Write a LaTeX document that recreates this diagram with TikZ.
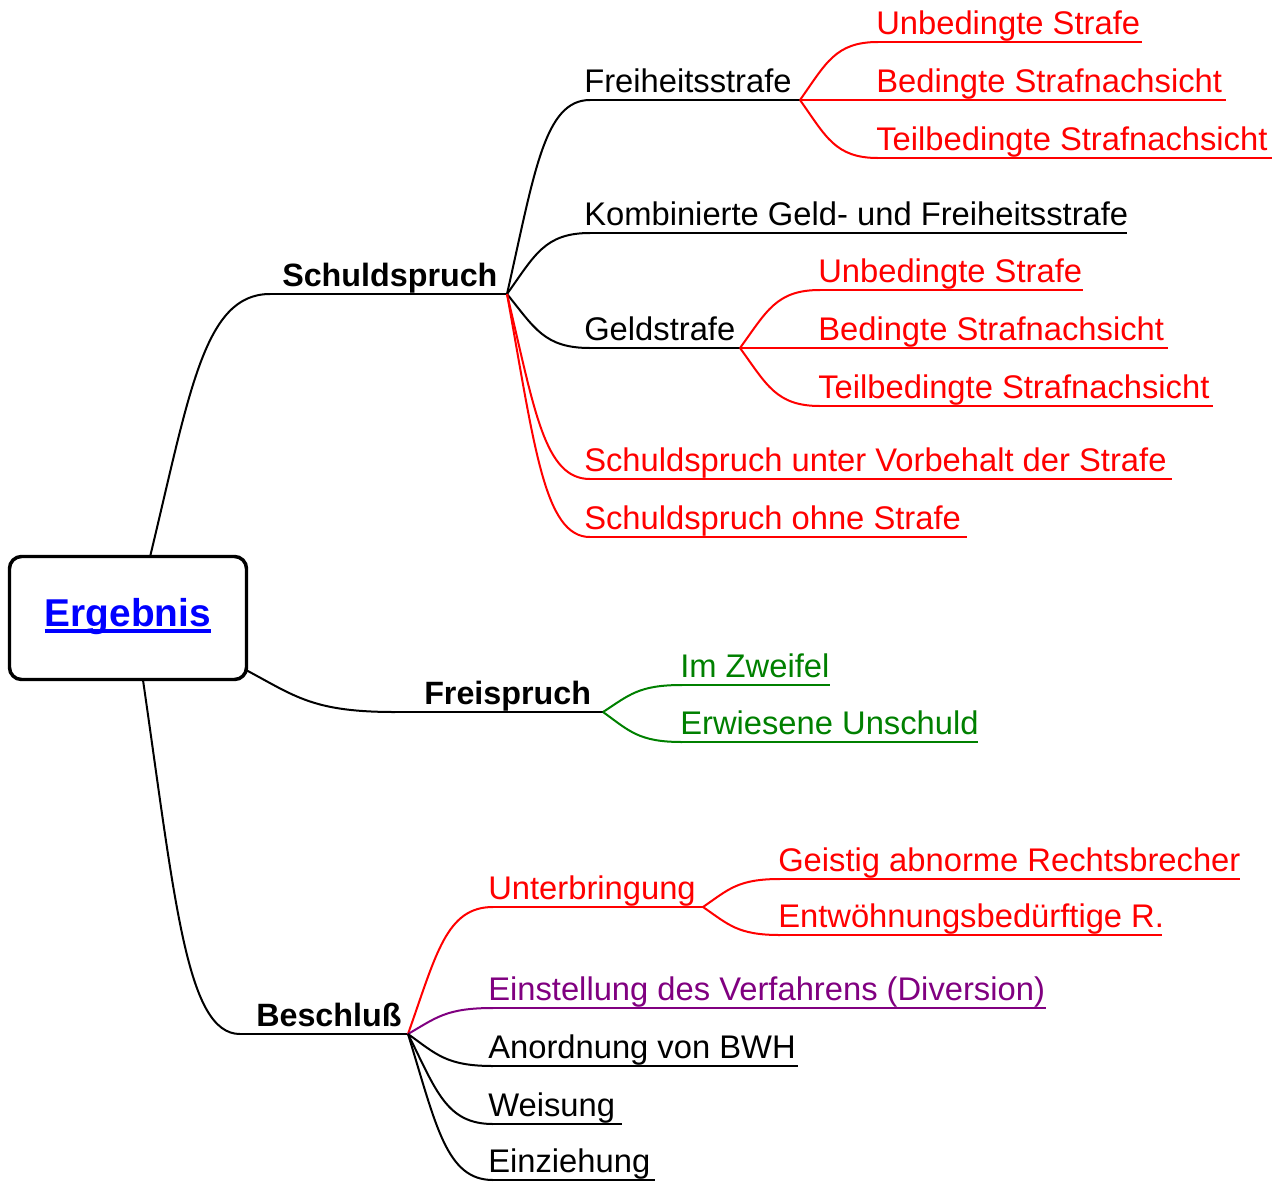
\documentclass[tikz,border=0pt]{standalone}
\usepackage{fontspec}
\setmainfont{Liberation Sans}
\usetikzlibrary{calc}
\definecolor{mmred}{RGB}{255,0,0}
\definecolor{mmgreen}{RGB}{0,128,0}
\definecolor{mmpurple}{RGB}{128,0,128}
\definecolor{mmblue}{RGB}{0,0,255}
\newcommand\mmfont{\fontsize{24.55}{29}\selectfont}
\newcommand\mmbold{\fontsize{24.2}{29}\selectfont\bfseries}
\tikzset{
  link/.style={line width=1.5pt},
  lbl/.style={anchor=base west, inner sep=0pt, font=\mmfont},
  ebox/.style={draw, rounded corners=9pt, line width=2.6pt, minimum width=177.75pt, minimum height=92.25pt, inner sep=0pt},
}
% name, colour, text x, underline y, in x, out x, text
\newcommand\mmleaf[7]{%
  \node[lbl, text=#2] (#1) at (#3,#4-8) {#7};
  \coordinate (#1-in) at (#5,#4);
  \coordinate (#1-out) at (#6,#4);
  \draw[link,#2] (#1-in) -- (#1-out);
}
\newcommand\mmlink[3]{%
  \draw[link,#3] let \p1=(#1), \p2=(#2) in (\p1) .. controls ({\x1+0.333*(\x2-\x1)},{\y1+0.63*(\y2-\y1)}) and ({\x1+0.45*(\x2-\x1)},{\y2}) .. (\p2);
}
\begin{document}
\begin{tikzpicture}[x=0.75pt,y=-0.75pt]
\useasboundingbox (0,0) rectangle (1278,1182);

% central box
\node[ebox] (ergebnis) at (128,618) {};
\node[anchor=base, inner sep=0pt, text=mmblue, font=\bfseries\fontsize{29.1}{34}\selectfont] (ergtext) at (128,626) {Ergebnis};
\draw[mmblue, line width=3pt] ([yshift=-4.1pt]ergtext.base west) -- ([yshift=-4.1pt]ergtext.base east);
\coordinate (e-top) at (150,557);
\coordinate (e-right) at (246,670);
\coordinate (e-bot) at (143,680);

% main branches
\mmleaf{schuld}{black}{282}{294}{270}{507}{\mmbold Schuldspruch}
\mmleaf{frei}{black}{424}{712}{395}{603}{\mmbold Freispruch}
\mmleaf{besch}{black}{256}{1034}{240}{408}{\mmbold Beschluß}

% Schuldspruch children
\mmleaf{freih}{black}{584}{100}{590}{800}{Freiheitsstrafe}
\mmleaf{kombi}{black}{584}{233}{590}{1127}{Kombinierte Geld- und Freiheitsstrafe}
\mmleaf{geld}{black}{584}{348}{590}{740}{Geldstrafe}
\mmleaf{suv}{mmred}{584}{479}{590}{1172}{Schuldspruch unter Vorbehalt der Strafe}
\mmleaf{sos}{mmred}{584}{537}{590}{967}{Schuldspruch ohne Strafe}

\mmleaf{fu}{mmred}{876}{42}{878}{1142}{Unbedingte Strafe}
\mmleaf{fb}{mmred}{876}{100}{878}{1226}{Bedingte Strafnachsicht}
\mmleaf{ft}{mmred}{876}{158}{878}{1272}{Teilbedingte Strafnachsicht}

\mmleaf{gu}{mmred}{818}{290}{820}{1083}{Unbedingte Strafe}
\mmleaf{gb}{mmred}{818}{348}{820}{1168}{Bedingte Strafnachsicht}
\mmleaf{gt}{mmred}{818}{406}{820}{1213}{Teilbedingte Strafnachsicht}

% Freispruch children
\mmleaf{iz}{mmgreen}{680}{685}{682}{830}{Im Zweifel}
\mmleaf{ew}{mmgreen}{680}{742}{682}{978}{Erwiesene Unschuld}

% Beschluss children
\mmleaf{unter}{mmred}{488}{907}{493}{703}{Unterbringung}
\mmleaf{einst}{mmpurple}{488}{1008}{493}{1046}{Einstellung des Verfahrens (Diversion)}
\mmleaf{anord}{black}{488}{1066}{493}{798}{Anordnung von BWH}
\mmleaf{weis}{black}{488}{1124}{493}{622}{Weisung}
\mmleaf{einz}{black}{488}{1180}{493}{655}{Einziehung}

\mmleaf{geist}{mmred}{778}{879}{780}{1240}{Geistig abnorme Rechtsbrecher}
\mmleaf{entw}{mmred}{778}{935}{780}{1162}{Entwöhnungsbedürftige R.}

% connectors
\mmlink{e-top}{schuld-in}{black}
\mmlink{e-right}{frei-in}{black}
\mmlink{e-bot}{besch-in}{black}

\mmlink{schuld-out}{freih-in}{black}
\mmlink{schuld-out}{kombi-in}{black}
\mmlink{schuld-out}{geld-in}{black}
\mmlink{schuld-out}{suv-in}{mmred}
\mmlink{schuld-out}{sos-in}{mmred}

\mmlink{freih-out}{fu-in}{mmred}
\mmlink{freih-out}{fb-in}{mmred}
\mmlink{freih-out}{ft-in}{mmred}

\mmlink{geld-out}{gu-in}{mmred}
\mmlink{geld-out}{gb-in}{mmred}
\mmlink{geld-out}{gt-in}{mmred}

\mmlink{frei-out}{iz-in}{mmgreen}
\mmlink{frei-out}{ew-in}{mmgreen}

\mmlink{besch-out}{unter-in}{mmred}
\mmlink{besch-out}{einst-in}{mmpurple}
\mmlink{besch-out}{anord-in}{black}
\mmlink{besch-out}{weis-in}{black}
\mmlink{besch-out}{einz-in}{black}

\mmlink{unter-out}{geist-in}{mmred}
\mmlink{unter-out}{entw-in}{mmred}
\end{tikzpicture}
\end{document}
